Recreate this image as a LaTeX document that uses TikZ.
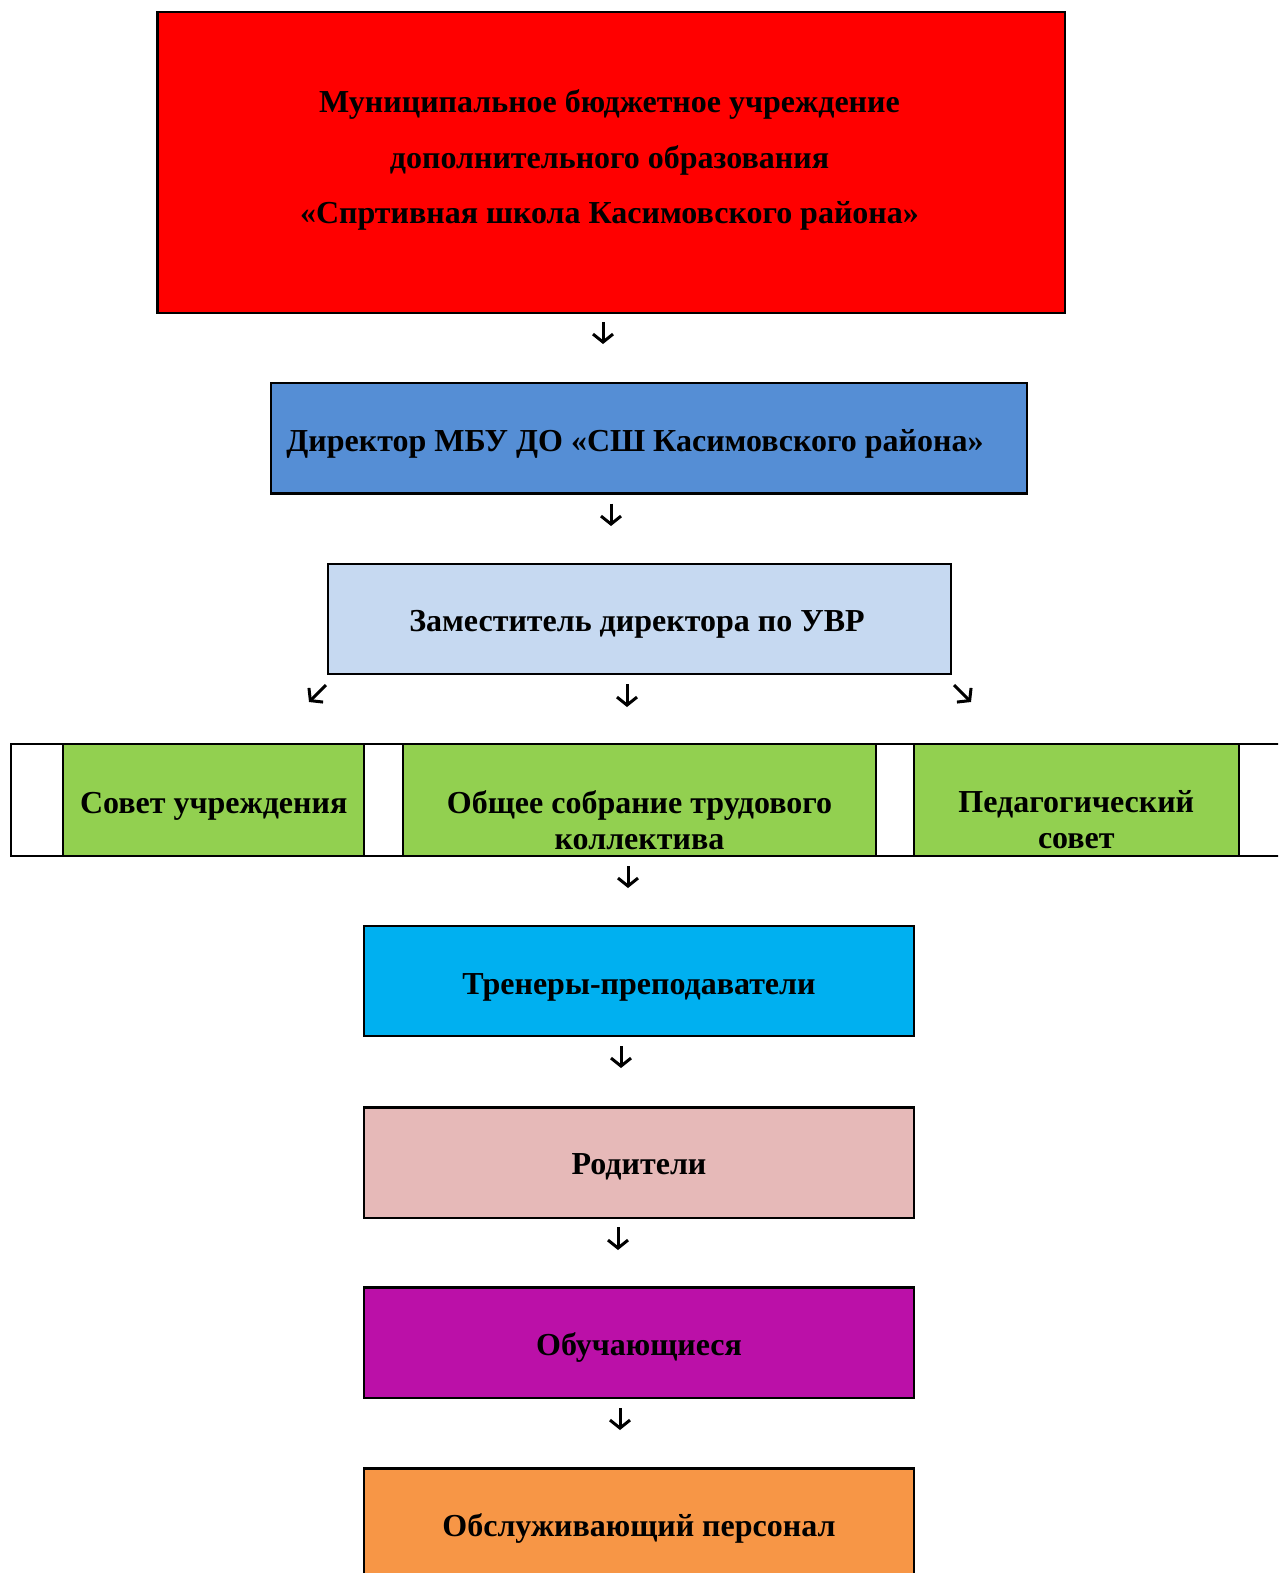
\documentclass[tikz,border=0pt]{standalone}
\usepackage{fontspec}
\setmainfont{Liberation Serif}
\usetikzlibrary{arrows.meta}
\definecolor{cred}{HTML}{FF0000}
\definecolor{cblue}{HTML}{558ED5}
\definecolor{clight}{HTML}{C6D9F1}
\definecolor{cgreen}{HTML}{92D050}
\definecolor{ccyan}{HTML}{00B0F0}
\definecolor{cpink}{HTML}{E6B9B8}
\definecolor{cpurple}{HTML}{BB10A8}
\definecolor{corange}{HTML}{F79646}
\tikzset{
  box/.style={draw=black, line width=2.2pt, inner sep=0pt, outer sep=0pt},
  lbl/.style={font=\fontsize{32}{36}\selectfont\bfseries, align=center, inner sep=0pt},
  arr/.style={line width=3pt, -{Straight Barb[length=8pt,width=20pt,line width=3pt]}}
}
\begin{document}
\begin{tikzpicture}[x=1pt,y=-1pt]
\useasboundingbox (0,0) rectangle (1278,1573);
\clip (0,0) rectangle (1278,1573);
% top red box
\node[box, fill=cred, minimum width=907.8pt, minimum height=301pt] (red) at (611.4,162.5) {};
\node[lbl, font=\fontsize{32}{55.5}\selectfont\bfseries] (redt) at (609.5,160) {Муниципальное бюджетное учреждение\\дополнительного образования\\«Спртивная школа Касимовского района»};
% director
\node[box, fill=cblue, minimum width=756.4pt, minimum height=110.3pt] (dir) at (649,438.4) {};
\node[lbl] (dirt) at (635,444) {Директор МБУ ДО «СШ Касимовского района»};
% deputy
\node[box, fill=clight, minimum width=623pt, minimum height=110.3pt] (dep) at (639.5,618.9) {};
\node[lbl] (dept) at (637,624) {Заместитель директора по УВР};
% green row
\draw[box] (11,744.3) rectangle (1295,855.6);
\node[box, fill=cgreen, minimum width=300.9pt, minimum height=111.3pt] (g1) at (213.7,800) {};
\node[box, fill=cgreen, minimum width=472.5pt, minimum height=111.3pt] (g2) at (639.5,800) {};
\node[box, fill=cgreen, minimum width=325pt, minimum height=111.3pt] (g3) at (1076.3,800) {};
\node[lbl] (g1t) at (213.7,806) {Совет учреждения};
\node[lbl] (g2t) at (639.5,820) {Общее собрание трудового\\коллектива};
\node[lbl] (g3t) at (1076.3,820) {Педагогический\\совет};
% lower boxes
\node[box, fill=ccyan, minimum width=549.7pt, minimum height=110.3pt] (tr) at (639,981) {};
\node[box, fill=cpink, minimum width=549.7pt, minimum height=110.3pt] (par) at (639,1162.6) {};
\node[box, fill=cpurple, minimum width=549.7pt, minimum height=110.3pt] (stu) at (639,1342.6) {};
\node[box, fill=corange, minimum width=549.7pt, minimum height=110.3pt] (srv) at (639,1523.6) {};
\node[lbl] (trt) at (639,987) {Тренеры-преподаватели};
\node[lbl] (part) at (639,1167) {Родители};
\node[lbl] (stut) at (639,1347) {Обучающиеся};
\node[lbl] (srvt) at (639,1528) {Обслуживающий персонал};
% arrows
\coordinate (a1s) at (603,322); \coordinate (a1e) at (603,344);
\coordinate (a2s) at (611,503.5); \coordinate (a2e) at (611,526);
\coordinate (a3s) at (326,685); \coordinate (a3e) at (309,702);
\coordinate (a4s) at (627,684); \coordinate (a4e) at (627,707);
\coordinate (a5s) at (954,685); \coordinate (a5e) at (971,702);
\coordinate (a6s) at (628,866); \coordinate (a6e) at (628,888);
\coordinate (a7s) at (621,1046); \coordinate (a7e) at (621,1068);
\coordinate (a8s) at (618,1227); \coordinate (a8e) at (618,1250);
\coordinate (a9s) at (620,1408); \coordinate (a9e) at (620,1430);
\foreach \i in {1,...,9} {\draw[arr] (a\i s) -- (a\i e);}
\end{tikzpicture}
\end{document}
